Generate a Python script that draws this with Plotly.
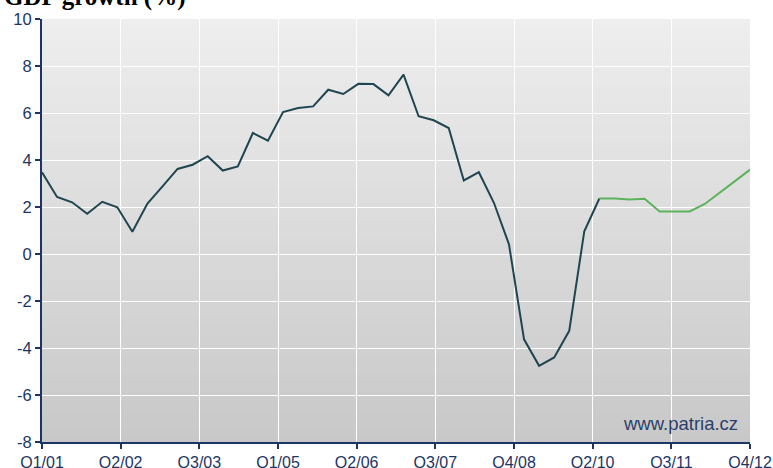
import numpy as np
import plotly.graph_objects as go

# ---- data ----
quarter_index_actual = list(range(0, 38))
gdp_actual = [3.48, 2.43, 2.20, 1.71, 2.22, 1.99, 0.95, 2.15, 2.88, 3.62,
              3.80, 4.16, 3.55, 3.73, 5.15, 4.82, 6.04, 6.21, 6.28, 6.99,
              6.81, 7.24, 7.23, 6.75, 7.63, 5.86, 5.69, 5.36, 3.13, 3.48,
              2.18, 0.41, -3.63, -4.76, -4.40, -3.27, 0.97, 2.36]
quarter_index_forecast = list(range(37, 48))
gdp_forecast = [2.36, 2.36, 2.32, 2.35, 1.81, 1.81, 1.81, 2.13, 2.60, 3.10, 3.59]
tick_labels = ["Q1/01", "Q2/02", "Q3/03", "Q1/05", "Q2/06",
               "Q3/07", "Q4/08", "Q2/10", "Q3/11", "Q4/12"]
y_ticks = [-8, -6, -4, -2, 0, 2, 4, 6, 8, 10]
y_tick_labels = ["-8", "-6", "-4", "-2", "0", "2", "4", "6", "8", "10"]

n_quarters = 48
tick_positions = np.linspace(0, n_quarters - 1, len(tick_labels))

NAVY = "#1d3565"
fig = go.Figure()
fig.add_trace(go.Scatter(x=quarter_index_actual, y=gdp_actual, mode="lines",
                         line=dict(color="#1f4650", width=2), hoverinfo="skip"))
fig.add_trace(go.Scatter(x=quarter_index_forecast, y=gdp_forecast, mode="lines",
                         line=dict(color="#5db35d", width=2), hoverinfo="skip"))

# vertical gradient background (overlapping bands to avoid seams)
nb = 60
top_c, bot_c = 238, 200
for i in range(nb):
    t = (i + 0.5) / nb
    c = int(round(bot_c + (top_c - bot_c) * t))
    fig.add_shape(type="rect", xref="paper", yref="paper",
                  x0=0, x1=1, y0=i / nb, y1=min(1.0, (i + 1.6) / nb),
                  fillcolor=f"rgb({c},{c},{c})", line=dict(width=0), layer="below")

fig.update_layout(
    width=773, height=468,
    margin=dict(l=42, r=23, t=19, b=26),
    paper_bgcolor="white", plot_bgcolor="rgba(0,0,0,0)",
    showlegend=False,
    font=dict(family="Liberation Sans, Arial, sans-serif", size=16, color=NAVY),
)
fig.update_xaxes(range=[0, n_quarters - 1], tickmode="array", tickvals=tick_positions,
                 ticktext=tick_labels, showgrid=True, gridcolor="white", gridwidth=1,
                 showline=True, linecolor=NAVY, linewidth=2, ticks="outside",
                 ticklen=5, tickwidth=1.5, tickcolor=NAVY, zeroline=False,
                 automargin=False, tickfont=dict(size=16, color=NAVY))
fig.update_yaxes(range=[-8, 10], tickmode="array", tickvals=y_ticks,
                 ticktext=y_tick_labels,
                 showgrid=True, gridcolor="white", gridwidth=1,
                 showline=True, linecolor=NAVY, linewidth=2, ticks="outside",
                 ticklen=5, tickwidth=1.5, tickcolor=NAVY, zeroline=False,
                 automargin=False, tickfont=dict(size=16.5, color=NAVY))

fig.add_annotation(text="<b>GDP growth (%)</b>", xref="paper", yref="paper",
                   x=0, y=1, xshift=-40, yshift=6, xanchor="left", yanchor="bottom",
                   showarrow=False,
                   font=dict(family="Liberation Serif, Times New Roman, serif", size=25, color="black"))
fig.add_annotation(text="www.patria.cz", xref="paper", yref="paper",
                   x=1, y=0, xshift=-10, yshift=6, xanchor="right", yanchor="bottom",
                   showarrow=False,
                   font=dict(family="Liberation Sans, Arial, sans-serif", size=18.5, color="#2b3f6b"))

fig.write_html("out.html", config={"displayModeBar": False},
               post_script="document.body.style.margin='0';document.body.style.overflow='hidden';")
